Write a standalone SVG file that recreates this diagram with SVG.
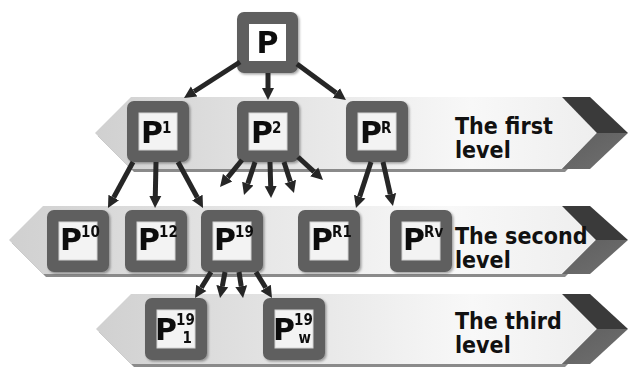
<svg xmlns="http://www.w3.org/2000/svg" width="630" height="369" viewBox="0 0 630 369">
<defs>
<linearGradient id="bandFill" x1="0" y1="0" x2="1" y2="0">
<stop offset="0" stop-color="#d0d0d0"/>
<stop offset="0.75" stop-color="#f8f8f8"/>
<stop offset="1" stop-color="#eeeeee"/>
</linearGradient>
<linearGradient id="darkLow" x1="0" y1="0" x2="1" y2="1">
<stop offset="0" stop-color="#5e5e5e"/>
<stop offset="1" stop-color="#707070"/>
</linearGradient>
<marker id="ah" markerUnits="userSpaceOnUse" markerWidth="14" markerHeight="14" viewBox="0 -7 14 14" refX="0" refY="0" orient="auto">
<path d="M0,-6 L12,0 L0,6 z" fill="#262626"/>
</marker>
<filter id="sh" x="-20%" y="-20%" width="140%" height="140%">
<feDropShadow dx="1.5" dy="1.5" stdDeviation="1.2" flood-color="#000" flood-opacity="0.35"/>
</filter>
</defs>
<style>
.band{fill:url(#bandFill)}
.bshadow{fill:#8a8a8a}
.dk1{fill:#3a3a3a}
.dk2{fill:url(#darkLow)}
.outer{fill:#5f5f5f}
.inner{fill:#f3f3f3;stroke:#d4d4d4;stroke-width:1}
.lbl{font-family:"DejaVu Sans",sans-serif;font-weight:bold;font-stretch:condensed;font-size:23px;fill:#111}
.p{font-family:"DejaVu Sans",sans-serif;font-weight:bold;font-size:30px;fill:#111}
.sup{font-family:"DejaVu Sans",sans-serif;font-weight:bold;font-stretch:condensed;font-size:15px;fill:#111}
.arr{stroke:#262626;stroke-width:5;fill:none;marker-end:url(#ah)}
</style>
<rect width="630" height="369" fill="#ffffff"/>

<g id="band1">
<polygon class="bshadow" points="98,136 134,100 565,100 600,136 565,172 134,172"/>
<polygon class="band" points="95,133 131,97 562,97 597,133 562,169 131,169"/>
<polygon class="dk1" points="562,97 590,97 628,133 597,133"/>
<polygon class="dk2" points="597,133 628,133 590,169 562,169"/>
<text class="lbl" x="455" y="134">The first</text>
<text class="lbl" x="455" y="158">level</text>
</g>
<g id="band2">
<polygon class="bshadow" points="12,243 46,209 565,209 599,243 565,277 46,277"/>
<polygon class="band" points="9,240 43,206 562,206 596,240 562,274 43,274"/>
<polygon class="dk1" points="562,206 590,206 628,240 596,240"/>
<polygon class="dk2" points="596,240 628,240 590,274 562,274"/>
<text class="lbl" x="455" y="244">The second</text>
<text class="lbl" x="455" y="268">level</text>
</g>
<g id="band3">
<polygon class="bshadow" points="99,332 134,297 565,297 600,332 565,367 134,367"/>
<polygon class="band" points="96,329 131,294 562,294 597,329 562,364 131,364"/>
<polygon class="dk1" points="562,294 590,294 628,329 597,329"/>
<polygon class="dk2" points="597,329 628,329 590,364 562,364"/>
<text class="lbl" x="455" y="329">The third</text>
<text class="lbl" x="455" y="353">level</text>
</g>

<g id="node-P" filter="url(#sh)">
<rect class="outer" x="237" y="12" width="61" height="61" rx="7"/>
<rect x="249" y="24" width="37" height="37" fill="#ffffff"/>
<text class="p" x="267.5" y="53" text-anchor="middle">P</text>
</g>
<g id="node-P1" filter="url(#sh)">
<rect class="outer" x="127" y="101" width="62" height="61" rx="7"/>
<rect class="inner" x="139" y="113" width="38" height="37"/>
<text class="p" x="141" y="143">P</text>
<text class="sup" x="162" y="133">1</text>
</g>
<g id="node-P2" filter="url(#sh)">
<rect class="outer" x="237" y="101" width="62" height="61" rx="7"/>
<rect class="inner" x="249" y="113" width="38" height="37"/>
<text class="p" x="251" y="143">P</text>
<text class="sup" x="272" y="133">2</text>
</g>
<g id="node-PR" filter="url(#sh)">
<rect class="outer" x="346" y="101" width="62" height="61" rx="7"/>
<rect class="inner" x="358" y="113" width="38" height="37"/>
<text class="p" x="360" y="143">P</text>
<text class="sup" x="381" y="133">R</text>
</g>

<g id="node-P10" filter="url(#sh)">
<rect class="outer" x="47" y="210" width="62" height="62" rx="7"/>
<rect class="inner" x="59" y="222" width="38" height="38"/>
<text class="p" x="60" y="250">P</text>
<text class="sup" x="81" y="237">10</text>
</g>
<g id="node-P12" filter="url(#sh)">
<rect class="outer" x="125" y="210" width="62" height="62" rx="7"/>
<rect class="inner" x="137" y="222" width="38" height="38"/>
<text class="p" x="138" y="250">P</text>
<text class="sup" x="159" y="237">12</text>
</g>
<g id="node-P19" filter="url(#sh)">
<rect class="outer" x="201" y="210" width="62" height="62" rx="7"/>
<rect class="inner" x="213" y="222" width="38" height="38"/>
<text class="p" x="214" y="250">P</text>
<text class="sup" x="235" y="237">19</text>
</g>
<g id="node-PR1" filter="url(#sh)">
<rect class="outer" x="298" y="210" width="62" height="62" rx="7"/>
<rect class="inner" x="310" y="222" width="38" height="38"/>
<text class="p" x="311" y="250">P</text>
<text class="sup" x="332" y="237">R1</text>
</g>
<g id="node-PRv" filter="url(#sh)">
<rect class="outer" x="390" y="210" width="62" height="62" rx="7"/>
<rect class="inner" x="402" y="222" width="38" height="38"/>
<text class="p" x="403" y="250">P</text>
<text class="sup" x="424" y="237">Rv</text>
</g>

<g id="node-P19-1" filter="url(#sh)">
<rect class="outer" x="145" y="298" width="62" height="62" rx="7"/>
<rect class="inner" x="157" y="310" width="38" height="38"/>
<text class="p" x="155" y="340">P</text>
<text class="sup" x="176" y="325">19</text>
<text class="sup" x="192" y="343" text-anchor="end">1</text>
</g>
<g id="node-P19-w" filter="url(#sh)">
<rect class="outer" x="263" y="298" width="62" height="62" rx="7"/>
<rect class="inner" x="275" y="310" width="38" height="38"/>
<text class="p" x="273" y="340">P</text>
<text class="sup" x="294" y="325">19</text>
<text class="sup" x="311" y="343" text-anchor="end">w</text>
</g>

<g id="connectors">
<line class="arr" x1="240" y1="62" x2="194.1" y2="91.5"/>
<line class="arr" x1="268" y1="73" x2="268" y2="88"/>
<line class="arr" x1="297" y1="64" x2="336.3" y2="92.9"/>
<line class="arr" x1="133" y1="162" x2="113.7" y2="197.5"/>
<line class="arr" x1="156" y1="162" x2="155.3" y2="196"/>
<line class="arr" x1="178" y1="162" x2="197.3" y2="197.5"/>
<line class="arr" x1="242" y1="160" x2="227.6" y2="177.7"/>
<line class="arr" x1="255" y1="162" x2="247.8" y2="183.6"/>
<line class="arr" x1="270" y1="162" x2="270.7" y2="186"/>
<line class="arr" x1="284" y1="162" x2="290.3" y2="181.6"/>
<line class="arr" x1="298" y1="157" x2="314.2" y2="171.9"/>
<line class="arr" x1="371" y1="162" x2="359.7" y2="196.6"/>
<line class="arr" x1="383" y1="162" x2="390.3" y2="194.3"/>
<line class="arr" x1="211" y1="272" x2="201.3" y2="287.8"/>
<line class="arr" x1="225" y1="272" x2="222.3" y2="286.2"/>
<line class="arr" x1="239" y1="272" x2="241.2" y2="286.1"/>
<line class="arr" x1="256" y1="272" x2="265.7" y2="287.8"/>
</g>
</svg>
